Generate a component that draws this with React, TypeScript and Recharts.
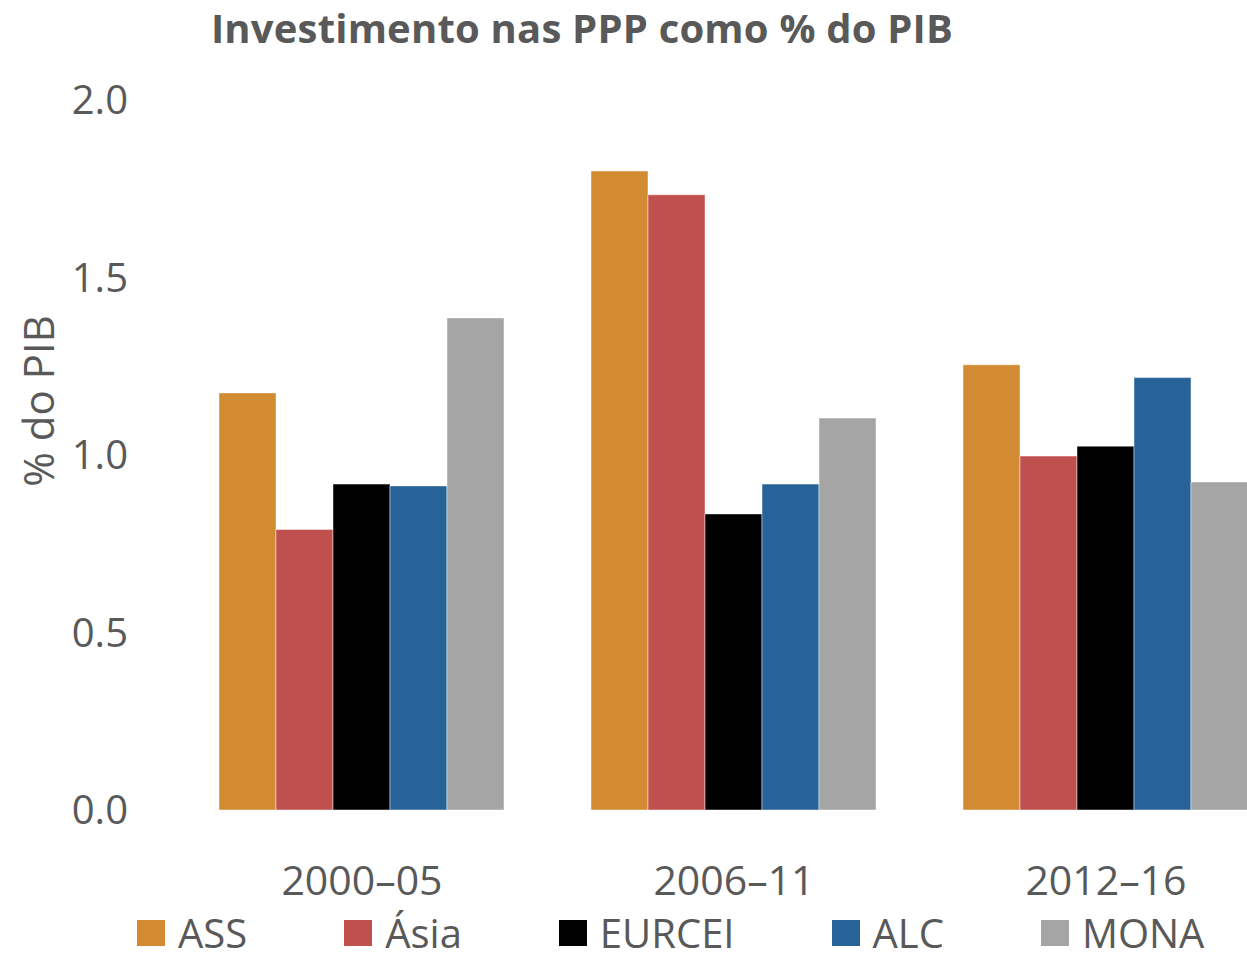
import React from "react";
import { BarChart, Bar, XAxis, YAxis, Legend, Label } from "recharts";

const periods = ["2000–05", "2006–11", "2012–16"];
const ass = [1.175, 1.8, 1.254];
const asia = [0.79, 1.733, 0.997];
const eurcei = [0.918, 0.834, 1.025];
const alc = [0.913, 0.918, 1.218];
const mona = [1.386, 1.104, 0.924];
const yTicks = [0, 0.5, 1, 1.5, 2];

const SERIES = [
  { key: "ASS", values: ass, color: "#D38B31" },
  { key: "Ásia", values: asia, color: "#C0504D" },
  { key: "EURCEI", values: eurcei, color: "#000000" },
  { key: "ALC", values: alc, color: "#276398" },
  { key: "MONA", values: mona, color: "#A5A5A5" },
];

const FONT = "'Segoe UI', 'Open Sans', sans-serif";
const TEXT = "#595959";

const data = periods.map((p, i) => {
  const row: { [k: string]: string | number } = { period: p };
  SERIES.forEach((s) => (row[s.key] = s.values[i]));
  return row;
});

const LegendRow = () => (
  <div style={{ display: "flex", alignItems: "center", height: 30, fontFamily: FONT, fontSize: 40, color: TEXT }}>
    {SERIES.map((s) => (
      <div key={s.key} style={{ display: "flex", alignItems: "center", marginRight: 97 }}>
        <span style={{ width: 28, height: 26, background: s.color, marginRight: 13, display: "inline-block" }} />
        <span style={{ lineHeight: "30px" }}>{s.key}</span>
      </div>
    ))}
  </div>
);

export default function App() {
  return (
    <div
      style={{
        position: "absolute",
        left: 0,
        top: 0,
        width: 1247,
        height: 967,
        overflow: "hidden",
        background: "#fff",
      }}
    >
      <div
        style={{
          position: "absolute",
          left: 0,
          top: 0,
          width: 1164,
          textAlign: "center",
          fontFamily: FONT,
          fontWeight: 700,
          fontSize: 40,
          lineHeight: "56px",
          letterSpacing: 0.2,
          color: TEXT,
          zIndex: 2,
        }}
      >
        Investimento nas PPP como % do PIB
      </div>
      <BarChart
        width={1300}
        height={967}
        data={data}
        margin={{ top: 100, right: 8, left: 0, bottom: 0 }}
        barCategoryGap={43}
        barGap={0}
      >
        <XAxis
          dataKey="period"
          axisLine={false}
          tickLine={false}
          tickSize={0}
          tickMargin={56}
          height={117}
          tick={{ fill: TEXT, fontSize: 41, fontFamily: FONT }}
        />
        <YAxis
          domain={[0, 2]}
          ticks={yTicks}
          tickFormatter={(v: number) => v.toFixed(1)}
          axisLine={false}
          tickLine={false}
          tickSize={0}
          tickMargin={48}
          width={176}
          tick={{ fill: TEXT, fontSize: 40, fontFamily: FONT }}
        >
          <Label
            content={({ viewBox }: any) => {
              const cy = viewBox.y + viewBox.height / 2 - 54;
              return (
                <text
                  x={54}
                  y={cy}
                  transform={`rotate(-90, 54, ${cy})`}
                  textAnchor="middle"
                  fill={TEXT}
                  fontSize={42}
                  fontFamily={FONT}
                >
                  % do PIB
                </text>
              );
            }}
          />
        </YAxis>
        <Legend
          verticalAlign="bottom"
          height={40}
          content={() => <LegendRow />}
          wrapperStyle={{ left: 137, width: 1100, bottom: 9 }}
        />
        {SERIES.map((s) => (
          <Bar
            key={s.key}
            dataKey={s.key}
            fill={s.color}
            stroke="rgba(255,255,255,0.45)"
            strokeWidth={1}
            isAnimationActive={false}
          />
        ))}
      </BarChart>
    </div>
  );
}
